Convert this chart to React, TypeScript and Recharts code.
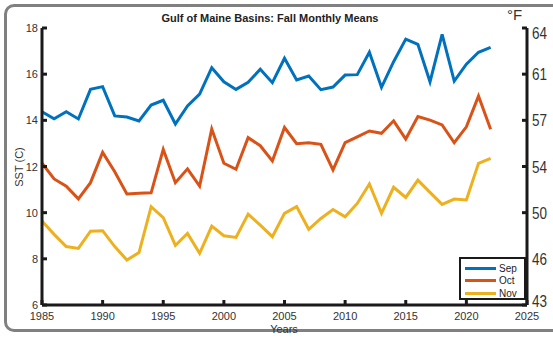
import React from "react";
import { LineChart, Line, XAxis, YAxis } from "recharts";

const years = [1985,1986,1987,1988,1989,1990,1991,1992,1993,1994,1995,1996,1997,1998,1999,2000,2001,2002,2003,2004,2005,2006,2007,2008,2009,2010,2011,2012,2013,2014,2015,2016,2017,2018,2019,2020,2021,2022];
const sep = [14.37,14.07,14.37,14.06,15.34,15.46,14.19,14.14,13.97,14.66,14.87,13.84,14.62,15.14,16.28,15.67,15.34,15.65,16.21,15.63,16.69,15.75,15.92,15.33,15.44,15.96,15.98,16.95,15.43,16.54,17.52,17.29,15.67,17.72,15.70,16.43,16.95,17.16];
const oct = [12.14,11.46,11.15,10.60,11.30,12.61,11.77,10.81,10.84,10.86,12.74,11.30,11.90,11.15,13.62,12.14,11.88,13.25,12.90,12.24,13.69,12.99,13.03,12.96,11.85,13.03,13.28,13.54,13.44,13.98,13.19,14.16,14.01,13.80,13.03,13.72,15.05,13.61];
const nov = [9.64,9.06,8.53,8.45,9.20,9.22,8.53,7.95,8.27,10.26,9.78,8.58,9.10,8.24,9.42,9.00,8.93,9.94,9.46,8.96,9.97,10.26,9.28,9.75,10.14,9.82,10.40,11.24,9.97,11.10,10.66,11.41,10.88,10.36,10.59,10.55,12.14,12.35];
const xTicks = [1985,1990,1995,2000,2005,2010,2015,2020,2025];
const cTicks = [6,8,10,12,14,16,18];
const fLabels = ["43","46","50","54","57","61","64"];
const seriesNames = ["Sep","Oct","Nov"];
const seriesColors = ["#0072BD","#D95319","#EDB120"];

const data = years.map((y, i) => ({ year: y, Sep: sep[i], Oct: oct[i], Nov: nov[i] }));

const AX = "#1a1a1a";
const TXT = "#333";

const BottomTick = (p: any) => (
  <g>
    <line x1={p.x} x2={p.x} y1={p.y} y2={p.y - 5} stroke={AX} strokeWidth={3} />
    <text x={p.x} y={p.y + 15} textAnchor="middle" fontSize={11} fill={TXT} fontFamily="Liberation Sans, Arial, sans-serif">{p.payload.value}</text>
  </g>
);
const TopTick = (p: any) => (
  <g>
    <line x1={p.x} x2={p.x} y1={p.y} y2={p.y + 5} stroke={AX} strokeWidth={3} />
  </g>
);
const LeftTick = (p: any) => (
  <g>
    <line x1={p.x} x2={p.x + 5} y1={p.y} y2={p.y} stroke={AX} strokeWidth={3} />
    <text x={p.x - 4} y={p.y + 4} textAnchor="end" fontSize={11} fill={TXT} fontFamily="Liberation Sans, Arial, sans-serif">{p.payload.value}</text>
  </g>
);
const RightTick = (p: any) => {
  const idx = cTicks.indexOf(p.payload.value);
  const shift = idx === 0 ? -4 : idx === cTicks.length - 1 ? 5 : 0;
  return (
    <g>
      <line x1={p.x} x2={p.x - 5} y1={p.y} y2={p.y} stroke={AX} strokeWidth={3} />
      <text x={p.x + 5} y={p.y + 6 + shift} textAnchor="start" fontSize={17} fill={TXT} textLength={15} lengthAdjust="spacingAndGlyphs" fontFamily="Liberation Sans, Arial, sans-serif">{fLabels[idx]}</text>
    </g>
  );
};

export default function App() {
  return (
    <div style={{ position: "absolute", left: 0, top: 0, width: 553, height: 339, overflow: "hidden", background: "#fff", fontFamily: "Liberation Sans, Arial, sans-serif" }}>
      <div style={{ position: "absolute", left: 4, top: 4, width: 570, height: 328, boxSizing: "border-box", border: "3px solid #808080", borderRadius: 10 }} />
      <LineChart width={553} height={339} data={data} margin={{ top: 28, right: 0, bottom: 0, left: 0 }} style={{ position: "absolute", left: 0, top: 0 }}>
        <XAxis dataKey="year" type="number" domain={[1985, 2025]} ticks={xTicks} interval={0} height={34} tickSize={0} tickMargin={0} tickLine={false} tick={BottomTick} axisLine={{ stroke: AX, strokeWidth: 3 }} allowDataOverflow />
        <XAxis xAxisId="top" orientation="top" dataKey="year" type="number" domain={[1985, 2025]} ticks={xTicks} interval={0} height={0} tickSize={0} tickMargin={0} tickLine={false} tick={TopTick} axisLine={{ stroke: AX, strokeWidth: 3 }} allowDataOverflow />
        <YAxis type="number" domain={[6, 18]} ticks={cTicks} interval={0} width={42} tickSize={0} tickMargin={0} tickLine={false} tick={LeftTick} axisLine={{ stroke: AX, strokeWidth: 3 }} allowDataOverflow />
        <YAxis yAxisId="right" orientation="right" type="number" domain={[6, 18]} ticks={cTicks} interval={0} width={26} tickSize={0} tickMargin={0} tickLine={false} tick={RightTick} axisLine={{ stroke: AX, strokeWidth: 3 }} allowDataOverflow />
        {seriesNames.map((n, i) => (
          <Line key={n} dataKey={n} type="linear" stroke={seriesColors[i]} strokeWidth={3} dot={false} isAnimationActive={false} />
        ))}
      </LineChart>
      <div style={{ position: "absolute", left: 0, width: 540, top: 12, textAlign: "center", fontWeight: "bold", fontSize: 11, color: "#222" }}>Gulf of Maine Basins: Fall Monthly Means</div>
      <div style={{ position: "absolute", left: 19, top: 167, transform: "translate(-50%, -50%) rotate(-90deg)", fontSize: 11, color: TXT, whiteSpace: "nowrap" }}>SST (C)</div>
      <div style={{ position: "absolute", left: 284, top: 323, transform: "translateX(-50%)", fontSize: 11, color: TXT }}>Years</div>
      <div style={{ position: "absolute", left: 507, top: 6, fontSize: 15, color: TXT }}>°F</div>
      <div style={{ position: "absolute", left: 459, top: 257, width: 67, height: 43, boxSizing: "border-box", border: "2.5px solid #1a1a1a", background: "#fff" }}>
        {seriesNames.map((n, i) => (
          <div key={n} style={{ position: "absolute", left: 4, top: 3 + i * 12.5, height: 12, display: "flex", alignItems: "center" }}>
            <div style={{ width: 31, height: 3, background: seriesColors[i] }} />
            <span style={{ marginLeft: 3, fontSize: 10, color: "#222" }}>{n}</span>
          </div>
        ))}
      </div>
    </div>
  );
}
